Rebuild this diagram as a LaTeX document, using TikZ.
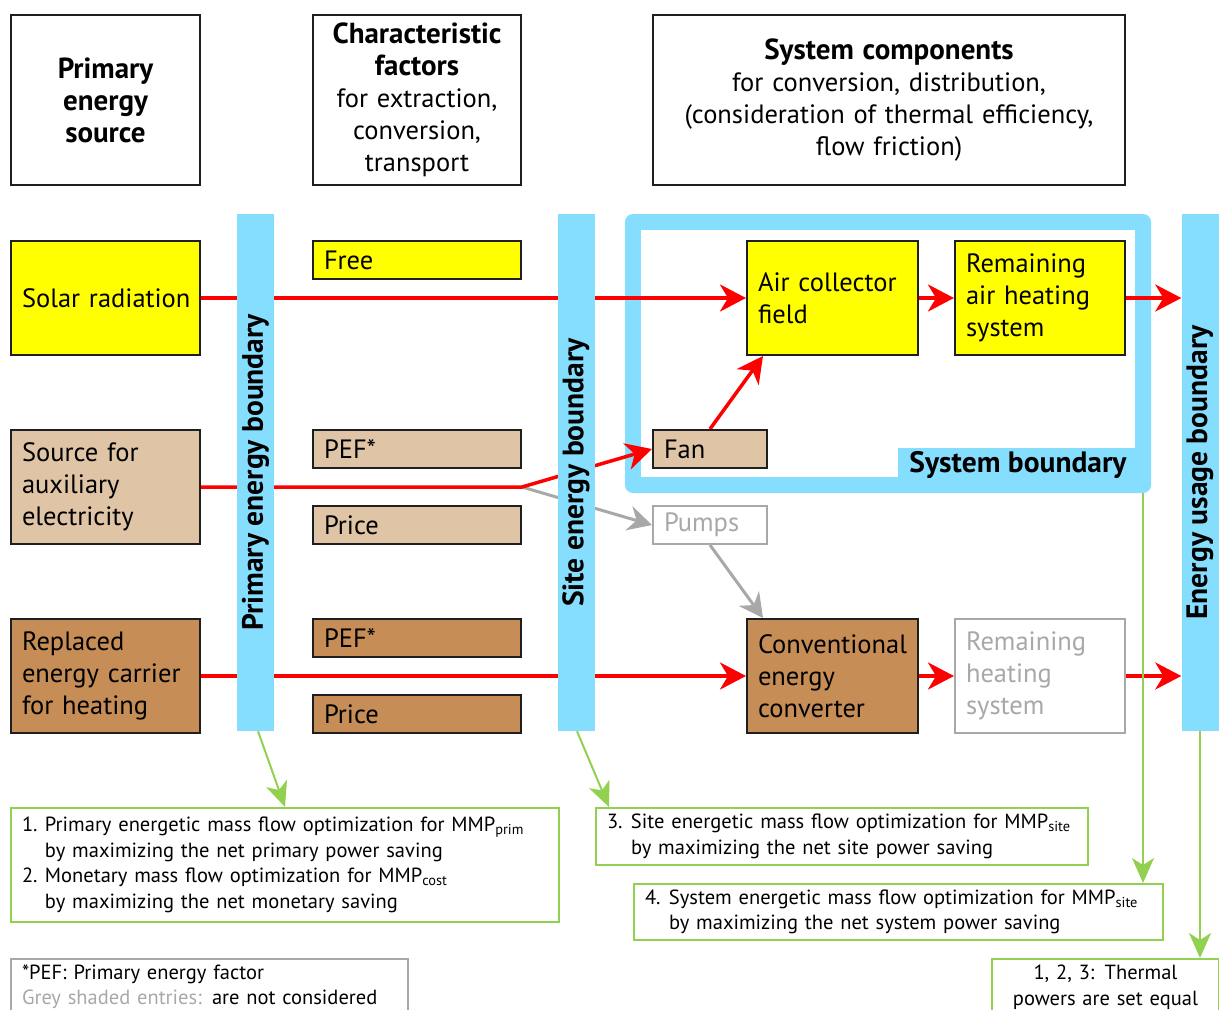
\documentclass[tikz,border=0pt]{standalone}
\usepackage{fontspec}
\setmainfont{PT Sans}
\usetikzlibrary{arrows.meta,calc}
\definecolor{cyel}{HTML}{FFFF00}
\definecolor{ctan}{HTML}{DFC4A6}
\definecolor{cbrn}{HTML}{C68D57}
\definecolor{cblue}{HTML}{86DEFF}
\definecolor{cgreen}{HTML}{92D050}
\definecolor{cred}{HTML}{FF0000}
\definecolor{cgrey}{HTML}{A8A8A8}
\newcommand\fsz[2]{\fontsize{#1}{#2}\selectfont}
\newcommand\hb[1]{{\fsz{29}{32}\bfseries #1}}
\pgfdeclarelayer{bg}\pgfdeclarelayer{ln}\pgfsetlayers{bg,ln,main}
\begin{document}
\begin{tikzpicture}[x=1pt,y=-1pt,
 bx/.style={draw=black!88, line width=2pt, anchor=north west, inner xsep=11pt, inner ysep=0pt, align=left, font=\fsz{26.5}{32}},
 hd/.style={draw=black!88, line width=2pt, anchor=north west, inner sep=0pt, align=center, font=\fsz{26.5}{32}},
 gbx/.style={bx, draw=cgrey, text=cgrey},
 bar/.style={fill=cblue, rotate=90, minimum width=517pt, minimum height=37pt, inner sep=0pt, font=\fsz{29.5}{32}\bfseries},
 gnote/.style={draw=cgreen, line width=2pt, anchor=north west, inner xsep=11pt, inner ysep=0pt, align=left, font=\fsz{20.5}{25.5}},
 rarr/.style={draw=cred, line width=3.5pt, -{Stealth[length=26pt,width=27pt,inset=8pt]}},
 grarr/.style={draw=cgrey, line width=3pt, -{Stealth[length=24pt,width=25pt,inset=8pt]}},
 gnarr/.style={draw=cgreen, line width=2pt, -{Stealth[length=25pt,width=22pt,inset=7pt]}},
]
\useasboundingbox (0,0) rectangle (1219,1010);

% header boxes
\node[hd, minimum width=189pt, minimum height=170pt, text width=180pt] (h1) at (10,14) {\hb{Primary}\\\hb{energy}\\\hb{source}};
\node[hd, minimum width=208pt, minimum height=170pt, text width=200pt] (h2) at (312,14) {\hb{Characteristic}\\\hb{factors}\\for extraction,\\conversion,\\transport};
\node[hd, minimum width=472pt, minimum height=170pt, text width=460pt] (h3) at (652,14) {\hb{System components}\\for conversion, distribution,\\(consideration of thermal efficiency,\\flow friction)};

% system boundary frame
\begin{pgfonlayer}{bg}
\fill[cblue, rounded corners=8pt] (625,214) rectangle (1151,493);
\fill[white] (641,230) rectangle (1135,477);
\fill[cblue] (898,448) rectangle (1135,477);
\end{pgfonlayer}
\node[font=\fsz{29.5}{32}\bfseries, inner sep=0pt] (sysl) at (1018,465) {System boundary};

% left column
\node[bx, fill=cyel, minimum width=189pt, minimum height=114pt, text width=167pt] (solar) at (10,240) {\mbox{Solar radiation}};
\node[bx, fill=ctan, minimum width=189pt, minimum height=114pt, text width=167pt] (aux) at (10,429) {Source for\\auxiliary\\electricity};
\node[bx, fill=cbrn, minimum width=189pt, minimum height=114pt, text width=167pt] (repl) at (10,618) {Replaced\\energy carrier\\for heating};

% characteristic factors
\node[bx, fill=cyel, minimum width=208pt, minimum height=38pt, text width=186pt] (free) at (312,240) {Free};
\node[bx, fill=ctan, minimum width=208pt, minimum height=38pt, text width=186pt] (pef1) at (312,429) {PEF*};
\node[bx, fill=ctan, minimum width=208pt, minimum height=38pt, text width=186pt] (price1) at (312,505) {Price};
\node[bx, fill=cbrn, minimum width=208pt, minimum height=38pt, text width=186pt] (pef2) at (312,618) {PEF*};
\node[bx, fill=cbrn, minimum width=208pt, minimum height=38pt, text width=186pt] (price2) at (312,694) {Price};

% components
\node[bx, fill=cyel, minimum width=171pt, minimum height=114pt, text width=149pt] (air) at (746,240) {Air collector\\field};
\node[bx, fill=cyel, minimum width=170pt, minimum height=114pt, text width=148pt] (rah) at (954,240) {Remaining\\air heating\\system};
\node[bx, fill=ctan, minimum width=114pt, minimum height=38pt, text width=92pt] (fan) at (652,429) {Fan};
\node[gbx, fill=white, minimum width=114pt, minimum height=38pt, text width=92pt] (pumps) at (652,505) {Pumps};
\node[bx, fill=cbrn, minimum width=171pt, minimum height=114pt, text width=149pt] (conv) at (746,618) {Conventional\\energy\\converter};
\node[gbx, fill=white, minimum width=170pt, minimum height=114pt, text width=148pt] (rhs) at (954,618) {Remaining\\heating\\system};

% boundary bars
\node[bar] (pb) at (255.5,472.5) {Primary energy boundary};
\node[bar] (sb) at (576,472.5) {Site energy boundary};
\node[bar] (eb) at (1200,472.5) {Energy usage boundary};

% flows
\coordinate (jn) at (aux.east -| pef1.east);
\coordinate (airin) at ($(air.south west)+(17,0)$);
\coordinate (convin) at ($(conv.north west)+(17,0)$);
\begin{pgfonlayer}{ln}
\draw[rarr] (solar.east) -- (air.west);
\draw[rarr] (air.east) -- (rah.west);
\draw[rarr] (rah.east) -- (rah.east -| eb.north);
\draw[grarr] (jn) -- (pumps.west);
\draw[rarr] (aux.east) -- (jn) -- (fan.west);
\draw[rarr] (fan.north) -- (airin);
\draw[grarr] (pumps.south) -- (convin);
\draw[rarr] (repl.east) -- (conv.west);
\draw[rarr] (conv.east) -- (rhs.west);
\draw[rarr] (rhs.east) -- (rhs.east -| eb.north);
\end{pgfonlayer}

% optimisation notes
\node[gnote, minimum width=548pt, minimum height=114pt, text width=526pt] (n1) at (10,807)
 {\makebox[23pt][l]{1.}Primary energetic mass flow optimization for MMP\textsubscript{prim}\\
  \hspace*{23pt}by maximizing the net primary power saving\\
  \makebox[23pt][l]{2.}Monetary mass flow optimization for MMP\textsubscript{cost}\\
  \hspace*{23pt}by maximizing the net monetary saving};
\node[gnote, minimum width=492pt, minimum height=57pt, text width=470pt] (n3) at (595,807)
 {\makebox[24pt][l]{3.}Site energetic mass flow optimization for MMP\textsubscript{site}\\
  \hspace*{24pt}by maximizing the net site power saving};
\node[gnote, minimum width=529pt, minimum height=56pt, text width=507pt] (n4) at (633,883)
 {\makebox[24pt][l]{4.}System energetic mass flow optimization for MMP\textsubscript{site}\\
  \hspace*{24pt}by maximizing the net system power saving};
\begin{scope}
\clip (0,0) rectangle (1219,1010);
\node[gnote, align=center, minimum width=227pt, minimum height=56pt, text width=205pt] (n5) at (991,958)
 {1, 2, 3: Thermal\\powers are set equal};
\node[gnote, draw=cgrey, minimum width=397pt, minimum height=56pt, text width=375pt] (pefn) at (10,958)
 {*PEF: Primary energy factor\\\textcolor{cgrey}{Grey shaded entries:} are not considered};
\end{scope}

\coordinate (sysb) at (1143,493);
\draw[gnarr] ($(pb.west)+(2.5,0)$) -- (n1.north);
\draw[gnarr] ($(sb.west)+(1,0)$) -- ($(n3.north west)+(14,0)$);
\draw[gnarr] (sysb) -- (sysb |- n4.north);
\draw[gnarr] (eb.west) -- (eb.west |- n5.north);
\end{tikzpicture}
\end{document}
